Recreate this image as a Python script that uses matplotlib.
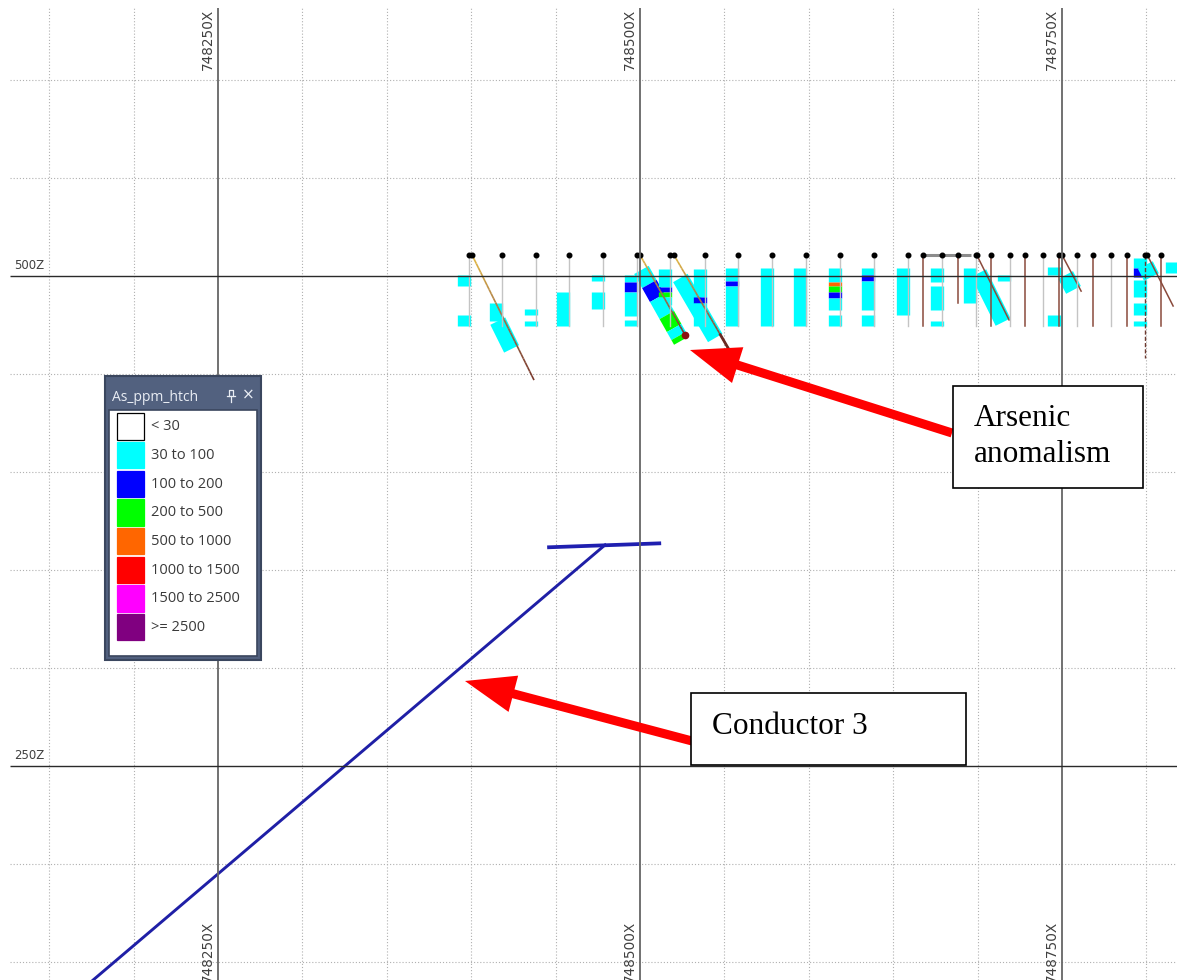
import matplotlib
matplotlib.use('Agg')
import matplotlib.pyplot as plt
import matplotlib.transforms as mtransforms
from matplotlib.patches import Rectangle
from matplotlib.collections import LineCollection
from matplotlib.colors import LinearSegmentedColormap
import numpy as np

W, H, DPI = 1177, 980, 100

# ---------------- data ----------------
x_major = [748250, 748500, 748750]
x_labels = ['748250X', '748500X', '748750X']
z_major = [500, 250]
z_labels = ['500Z', '250Z']
x_minor = [748150, 748200, 748300, 748350, 748400, 748450,
           748550, 748600, 748650, 748700, 748800]
z_minor = [150, 200, 300, 350, 400, 450, 550, 600]

collar_z = 510.7
hole_names = ['V01', 'A', 'V02', 'V03', 'V04', 'V05', 'V06', 'B', 'V07', 'C',
              'V08', 'V09', 'V10', 'V11', 'V12', 'V13', 'V14', 'V15', 'V16', 'V17',
              'V18', 'D', 'V19', 'V20', 'V21', 'V22', 'V23', 'E', 'V24', 'V25',
              'V26', 'V27', 'V28', 'F', 'V29', 'V30']
hole_e = [748398.7, 748400.5, 748418.2, 748438.4, 748457.9, 748478.1, 748498.2, 748500.0,
          748518.0, 748520.1, 748538.5, 748558.0, 748578.2, 748598.3, 748618.5, 748638.6,
          748658.8, 748667.5, 748678.9, 748688.4, 748699.0, 748699.5, 748708.0, 748719.0,
          748728.0, 748739.0, 748748.2, 748750.0, 748759.0, 748768.2, 748778.9, 748788.3,
          748799.2, 748800.5, 748808.5, 748818.5]
hole_end_e = [748398.7, 748437.2, 748418.2, 748438.4, 748457.9, 748478.1, 748498.2, 748526.7,
              748518.0, 748553.9, 748538.5, 748558.0, 748578.2, 748598.3, 748618.5, 748638.6,
              748658.8, 748667.5, 748678.9, 748688.4, 748699.0, 748718.6, 748708.0, 748719.0,
              748728.0, 748739.0, 748748.2, 748761.3, 748759.0, 748768.2, 748778.9, 748788.3,
              748799.2, 748815.8, 748808.5, 748818.5]
hole_end_z = [474.5, 446.9, 474.5, 474.5, 474.5, 474.5, 474.5, 469.9,
              474.5, 460.7, 474.5, 474.5, 474.5, 474.5, 474.5, 474.5,
              474.5, 474.5, 474.5, 486.2, 474.5, 477.6, 474.5, 474.5,
              474.5, 474.5, 474.5, 492.3, 474.5, 474.5, 474.5, 474.5,
              458.2, 484.7, 474.5, 474.5]
hole_kind = ['grey', 'grad', 'grey', 'grey', 'grey', 'grey', 'grey', 'grad',
             'grey', 'grad', 'grey', 'grey', 'grey', 'grey', 'grey', 'grey',
             'grey', 'brown', 'grey', 'brown', 'grey', 'brown', 'brown', 'grey',
             'brown', 'grey', 'brown', 'brown', 'grey', 'brown', 'grey', 'brown',
             'dashed', 'brown', 'brown', 'grey']

# surface / collar bar
bar_e = [748667.0, 748696.0]
bar_z = [510.5, 510.5]

# assay intervals: hole, top elevation, bottom elevation, class index
iv_hole = ['V01', 'V01', 'V02', 'A', 'V03', 'V03', 'V04', 'V05', 'V05',
           'V06', 'V06', 'V06', 'V06',
           'B', 'B', 'B', 'B', 'B', 'B',
           'V07', 'V07', 'V07', 'V07', 'C',
           'V08', 'V08', 'V08', 'V09', 'V09', 'V09', 'V10', 'V11',
           'V12', 'V12', 'V12', 'V12', 'V12', 'V12',
           'V13', 'V13', 'V13', 'V13', 'V14',
           'V16', 'V16', 'V16', 'V18', 'D', 'V20', 'V23', 'V23', 'E',
           'V28', 'V28', 'V28', 'V28', 'V28', 'F', 'V30']
iv_top = [500.5, 480.1, 486.2, 477.0, 483.2, 477.0, 491.8, 500.5, 491.8,
          500.5, 496.9, 491.8, 477.6,
          503.1, 495.9, 488.8, 480.1, 473.5, 469.4,
          503.6, 494.4, 491.8, 489.3, 499.0,
          503.6, 489.3, 486.2, 504.1, 497.4, 494.9, 504.1, 504.1,
          504.1, 496.9, 494.9, 491.8, 488.8, 480.1,
          504.1, 500.5, 497.4, 480.1, 504.1,
          504.1, 494.9, 477.0, 504.1, 501.5, 500.5, 504.6, 480.1, 500.5,
          509.2, 504.1, 498.0, 486.2, 477.0, 505.6, 507.1]
iv_bot = [495.0, 474.5, 477.0, 462.8, 480.1, 474.5, 474.5, 497.4, 483.2,
          496.9, 491.8, 479.6, 474.5,
          495.9, 488.8, 480.1, 473.5, 469.4, 467.0,
          494.4, 491.8, 489.3, 485.2, 468.4,
          489.3, 486.2, 474.5, 497.4, 494.9, 474.5, 474.5, 474.5,
          496.9, 494.9, 491.8, 488.8, 482.7, 474.5,
          500.5, 497.4, 482.7, 474.5, 480.1,
          496.9, 482.7, 474.5, 486.2, 476.5, 497.4, 500.5, 474.5, 492.9,
          504.1, 499.5, 489.3, 480.1, 474.5, 499.5, 501.5]
iv_cls = [1, 1, 1, 1, 1, 1, 1, 1, 1,
          1, 2, 1, 1,
          1, 2, 1, 3, 1, 3,
          1, 2, 3, 1, 1,
          1, 2, 1, 1, 2, 1, 1, 1,
          1, 4, 3, 2, 1, 1,
          1, 2, 1, 1, 1,
          1, 1, 1, 1, 1, 1, 1, 1, 1,
          1, 2, 1, 1, 1, 1, 1]

legend_labels = ['< 30', '30 to 100', '100 to 200', '200 to 500', '500 to 1000',
                 '1000 to 1500', '1500 to 2500', '>= 2500']
legend_colors = ['#ffffff', '#00ffff', '#0000ff', '#00ff00', '#ff6600',
                 '#ff0000', '#ff00ff', '#800080']
legend_title = 'As_ppm_htch'

# conductor 3 trace
cond_e = [748176.0, 748479.3]
cond_z = [140.8, 362.8]
cond_top_e = [748446.1, 748511.4]
cond_top_z = [361.6, 363.6]

# ---------------- figure ----------------
fig = plt.figure(figsize=(W / DPI, H / DPI), dpi=DPI)
ax = fig.add_axes([0, 0, 1, 1])
x0, x1 = 748120.85, 748818.1
zb, zt = 140.82, 640.82
ax.set_xlim(x0, x1)
ax.set_ylim(zb, zt)
ax.axis('off')

grid_left = 748126.8
grid_top = 636.7

# minor dotted grid
ax.vlines(x_minor, zb, grid_top, colors='#b0b0b0', linewidth=0.8,
          linestyles=(0, (1, 1.8)), zorder=1)
ax.hlines(z_minor, grid_left, x1, colors='#b0b0b0', linewidth=0.8,
          linestyles=(0, (1, 1.8)), zorder=1)
# major solid lines
ax.vlines(x_major, zb, grid_top, colors='#666666', linewidth=1.3, zorder=6)
ax.hlines(z_major, grid_left, x1, colors='#2a2a2a', linewidth=1.0, zorder=6)

px_x = (x1 - x0) / W   # data units per pixel
px_z = (zt - zb) / H
for xm, lab in zip(x_major, x_labels):
    ax.text(xm - 3 * px_x, zt - 9 * px_z, lab, rotation=90, ha='right', va='top',
            fontsize=9.8, color='#404040', family='DejaVu Sans', zorder=7)
    ax.text(xm - 3 * px_x, zt - 921 * px_z, lab, rotation=90, ha='right', va='top',
            fontsize=9.8, color='#404040', family='DejaVu Sans', zorder=7)
for zm, lab in zip(z_major, z_labels):
    ax.text(grid_left + 4 * px_x, zm + 4 * px_z, lab, ha='left', va='bottom',
            fontsize=8.5, color='#404040', family='DejaVu Sans', zorder=7)

# collar bar
ax.plot(bar_e, bar_z, color='#8c8c8c', linewidth=2.2, zorder=4, solid_capstyle='butt')

# assay intervals (drawn just left of each trace)
off_v = ax.transData + mtransforms.ScaledTranslation(-5.5 / DPI, 0, fig.dpi_scale_trans)
off_a = ax.transData + mtransforms.ScaledTranslation(-7.0 / DPI, 0, fig.dpi_scale_trans)
idx = {n: i for i, n in enumerate(hole_names)}


def east_at(i, z):
    e0, e1, z1 = hole_e[i], hole_end_e[i], hole_end_z[i]
    return e0 + (collar_z - z) / (collar_z - z1) * (e1 - e0)


for h, zt_, zb_, c in zip(iv_hole, iv_top, iv_bot, iv_cls):
    i = idx[h]
    angled = hole_e[i] != hole_end_e[i]
    ax.plot([east_at(i, zt_), east_at(i, zb_)], [zt_, zb_], color=legend_colors[c],
            linewidth=12.0 if angled else 9.6, solid_capstyle='butt',
            transform=off_a if angled else off_v, zorder=3)

# hole traces
grad = LinearSegmentedColormap.from_list('g', ['#e2b845', '#a0704a', '#7a3a2e'])
for i, k in enumerate(hole_kind):
    es = [hole_e[i], hole_end_e[i]]
    zs = [collar_z, hole_end_z[i]]
    if k == 'grey':
        ax.plot(es, zs, color='#c4c4c4', linewidth=1.0, zorder=4)
    elif k == 'brown':
        ax.plot(es, zs, color='#8a4a3c', linewidth=1.1, zorder=4)
    elif k == 'dashed':
        ax.plot(es, zs, color='#6e3a30', linewidth=1.0, linestyle=(0, (3, 1.5)), zorder=4)
    else:
        t = np.linspace(0, 1, 30)
        ee = es[0] + t * (es[1] - es[0])
        zz = zs[0] + t * (zs[1] - zs[0])
        segs = np.stack([np.column_stack([ee[:-1], zz[:-1]]),
                         np.column_stack([ee[1:], zz[1:]])], axis=1)
        lc = LineCollection(segs, cmap=grad, linewidth=1.2, zorder=4)
        lc.set_array(t[:-1])
        ax.add_collection(lc)

iB = idx['B']
ax.plot([hole_end_e[iB]], [hole_end_z[iB]], 'o', color='#8b1010', markersize=4.5, zorder=5)
iC = idx['C']
ax.plot([east_at(iC, 470), hole_end_e[iC]], [470, hole_end_z[iC]], color='#6a2a22',
        linewidth=2.0, zorder=4)

# collars
ax.plot(hole_e[:-1], [collar_z] * (len(hole_e) - 1), 'o', color='black',
        markersize=3.3, zorder=5, linestyle='none')

# conductor
ax.plot(cond_e, cond_z, color='#1f1fa6', linewidth=2.1, zorder=4)
ax.plot(cond_top_e, cond_top_z, color='#1f1fb0', linewidth=2.7, zorder=4)

# ---------------- overlay (pixel coords) ----------------
lax = fig.add_axes([0, 0, 1, 1])
lax.set_xlim(0, W)
lax.set_ylim(H, 0)
lax.axis('off')

# arrows
lax.annotate('', xy=(690, 350), xytext=(952, 433),
             arrowprops=dict(facecolor='#ff0000', edgecolor='none', width=6.5,
                             headwidth=27, headlength=36, shrink=0), zorder=8)
lax.annotate('', xy=(465, 681), xytext=(692, 741),
             arrowprops=dict(facecolor='#ff0000', edgecolor='none', width=6.5,
                             headwidth=27, headlength=36, shrink=0), zorder=8)

# callout boxes
lax.add_patch(Rectangle((953, 386), 190, 102, facecolor='white', edgecolor='black',
                        linewidth=1.2, zorder=9))
lax.text(974, 426, 'Arsenic', ha='left', va='baseline', fontsize=22.5,
         family='Liberation Serif', color='black', zorder=10)
lax.text(974, 462, 'anomalism', ha='left', va='baseline', fontsize=22.5,
         family='Liberation Serif', color='black', zorder=10)
lax.add_patch(Rectangle((691, 693), 275, 72, facecolor='white', edgecolor='black',
                        linewidth=1.2, zorder=9))
lax.text(712, 734, 'Conductor 3', ha='left', va='baseline', fontsize=22.5,
         family='Liberation Serif', color='black', zorder=10)

# legend panel
lax.add_patch(Rectangle((105, 376), 156, 284, facecolor='#52617f', edgecolor='#3a465e',
                        linewidth=1.5, zorder=9))
lax.add_patch(Rectangle((109, 410), 148, 246, facecolor='white', edgecolor='#3a465e',
                        linewidth=1.2, zorder=10))
lax.text(112, 397, legend_title, ha='left', va='center', fontsize=10,
         family='Open Sans', color='#e9edf4', zorder=11)
# pin + close glyphs
lax.plot([229, 229, 233, 233], [396, 390, 390, 396], color='#e9edf4', lw=0.9, zorder=11)
lax.plot([227, 235], [396, 396], color='#e9edf4', lw=0.9, zorder=11)
lax.plot([231, 231], [396, 402], color='#e9edf4', lw=0.9, zorder=11)
lax.text(248, 395, '×', ha='center', va='center', fontsize=11, family='DejaVu Sans',
         color='#e9edf4', zorder=11)
for k, (lab, col) in enumerate(zip(legend_labels, legend_colors)):
    top = 413.3 + k * 28.65
    lax.add_patch(Rectangle((117.3, top), 26.7, 26.5, facecolor=col,
                            edgecolor='black' if k == 0 else col, linewidth=0.9, zorder=11))
    lax.text(151, top + 13.5, lab, ha='left', va='center', fontsize=10.5,
             family='Open Sans', color='#3a3a3a', zorder=11)

fig.savefig('out.png', dpi=DPI)
